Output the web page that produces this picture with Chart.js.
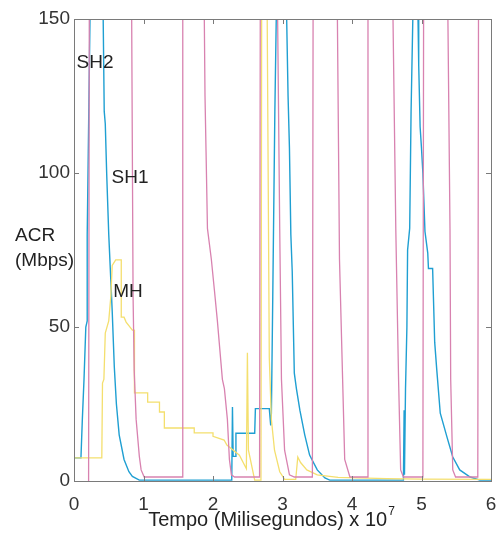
<!DOCTYPE html>
<html>
<head>
<meta charset="utf-8">
<script src="https://cdn.jsdelivr.net/npm/chart.js@4.4.1/dist/chart.umd.min.js"></script>
<style>
  html, body { margin: 0; padding: 0; background: #fff; }
  #wrap { width: 501px; height: 534px; }
</style>
</head>
<body>
<div id="wrap"><canvas id="acrChart" width="501" height="534"></canvas></div>
<script>
// ACR traces, time in units of 1e7 ms
const sh1Time = [0.21, 0.22, 0.83, 0.85, 0.866, 0.894, 0.94, 0.966, 1.01, 1.56, 1.565, 1.875, 1.885, 1.90, 1.92, 1.976, 2.02, 2.063, 2.135, 2.164, 2.207, 2.236, 2.265, 2.31, 2.67, 2.68, 2.93, 2.96, 2.985, 3.03, 3.10, 3.17, 3.43, 3.44, 3.79, 3.82, 3.865, 3.895, 3.97, 4.22, 4.23, 4.59, 4.63, 4.67, 4.70, 4.74, 5.02, 5.03, 5.38, 5.41, 5.42, 5.45, 5.49, 5.81, 5.82, 6.0];
const sh1Rate = [0, 150, 150, 60, 36, 20, 8, 3.6, 1.3, 1.3, 150, 150, 125, 107, 82, 72, 62, 52, 33, 30, 20, 7, 2, 1.3, 1.3, 150, 150, 82, 33, 10, 2, 1.3, 1.3, 150, 150, 72, 33, 7, 1.3, 1.3, 150, 150, 82, 33, 3.6, 1.3, 1.3, 150, 150, 82, 33, 3.6, 1.3, 1.3, 150, 150];

const sh2Time = [0, 0.10, 0.12, 0.144, 0.17, 0.19, 0.19, 0.21, 0.23, 0.42, 0.435, 0.45, 0.47, 0.50, 0.53, 0.55, 0.58, 0.61, 0.65, 0.72, 0.79, 0.84, 0.94, 2.27, 2.28, 2.29, 2.32, 2.33, 2.60, 2.61, 2.81, 2.83, 2.84, 2.86, 2.89, 2.91, 3.06, 3.08, 3.10, 3.12, 3.14, 3.17, 3.20, 3.25, 3.32, 3.39, 3.50, 3.61, 3.68, 4.74, 4.75, 4.755, 4.77, 4.79, 4.80, 4.83, 4.85, 4.875, 4.95, 4.96, 4.98, 5.00, 5.02, 5.05, 5.09, 5.10, 5.16, 5.19, 5.22, 5.27, 5.37, 5.45, 5.55, 5.70, 5.84, 6.0];
const sh2Rate = [7.5, 7.5, 20, 33, 50, 52, 80, 115, 150, 150, 120, 116, 100, 80, 65, 55, 37, 25, 15, 7, 3, 1.5, 0.3, 0.3, 24, 8, 8, 15.5, 15.5, 23.5, 23.5, 18, 22, 60, 120, 150, 150, 125, 108, 80, 68, 35, 30, 23, 15, 8.4, 3.6, 1.0, 0.3, 0.3, 23, 2, 30, 50, 75, 82, 120, 150, 150, 135, 115, 108, 100, 81, 74, 69, 69, 45, 36, 22, 14, 7.8, 3.6, 1.3, 0.3, 0.3];

const mhTime = [0, 0.40, 0.41, 0.43, 0.45, 0.50, 0.53, 0.55, 0.60, 0.68, 0.68, 0.72, 0.75, 0.84, 0.865, 0.87, 1.06, 1.06, 1.23, 1.23, 1.30, 1.30, 1.73, 1.73, 2.00, 2.00, 2.16, 2.20, 2.38, 2.48, 2.495, 2.51, 2.60, 2.69, 2.70, 2.78, 2.81, 2.84, 2.885, 2.96, 3.03, 3.19, 3.22, 3.26, 3.35, 3.50, 3.80, 4.50, 5.00, 6.0];
const mhRate = [7.5, 7.5, 31.8, 33, 48, 52, 60, 70, 71.8, 71.8, 53.2, 53.2, 51.6, 49, 49, 28.6, 28.6, 25.6, 25.6, 22.4, 22.4, 17.2, 17.2, 15.6, 15.6, 14.5, 13.3, 11.7, 8.4, 4, 41.6, 10, 0.3, 0.3, 150, 150, 40, 20, 10, 3, 0.5, 0.5, 7.8, 6, 3.6, 2, 1.2, 0.8, 0.6, 0.5];

const xTicks = [0, 1, 2, 3, 4, 5, 6];
const yTicks = [0, 50, 100, 150];

const FONT = 'Liberation Sans, Arial, sans-serif';

function toPoints(xs, ys) {
  return xs.map((x, i) => ({ x: x, y: ys[i] }));
}

// box frame with inward tick marks on all four sides, plus the text labels
const framePlugin = {
  id: 'frame',
  afterDatasetsDraw(chart) {
    const { ctx, chartArea: a, scales } = chart;
    ctx.save();
    ctx.strokeStyle = '#7a7a7a';
    ctx.lineWidth = 1;
    ctx.strokeRect(a.left + 0.5, a.top + 0.5, a.right - a.left, a.bottom - a.top);
    ctx.beginPath();
    xTicks.forEach(v => {
      const px = Math.round(scales.x.getPixelForValue(v)) + 0.5;
      ctx.moveTo(px, a.bottom); ctx.lineTo(px, a.bottom - 5);
      ctx.moveTo(px, a.top); ctx.lineTo(px, a.top + 5);
    });
    yTicks.forEach(v => {
      const py = Math.round(scales.y.getPixelForValue(v)) + 0.5;
      ctx.moveTo(a.left, py); ctx.lineTo(a.left + 5, py);
      ctx.moveTo(a.right, py); ctx.lineTo(a.right - 5, py);
    });
    ctx.stroke();

    ctx.fillStyle = '#222';
    ctx.font = '19px ' + FONT;
    ctx.textBaseline = 'middle';
    ctx.textAlign = 'center';
    ctx.fillText('SH2', 95, 63);
    ctx.fillText('SH1', 130, 178);
    ctx.fillText('MH', 128, 292);

    ctx.textAlign = 'left';
    ctx.fillText('ACR', 15, 236);
    ctx.fillText('(Mbps)', 15, 261);

    // x axis title with superscript exponent
    const main = 'Tempo (Milisegundos) x 10';
    ctx.font = '20px ' + FONT;
    const w = ctx.measureText(main).width;
    ctx.font = '12px ' + FONT;
    const ws = ctx.measureText('7').width;
    const startX = 271 - (w + ws) / 2;
    ctx.font = '20px ' + FONT;
    ctx.fillText(main, startX, 520);
    ctx.font = '12px ' + FONT;
    ctx.fillText('7', startX + w + 1, 512);
    ctx.restore();
  }
};

new Chart(document.getElementById('acrChart').getContext('2d'), {
  type: 'scatter',
  data: {
    datasets: [
      {
        label: 'SH1',
        data: toPoints(sh1Time, sh1Rate),
        showLine: true,
        borderColor: '#d882b0',
        borderWidth: 1.3,
        pointRadius: 0,
        tension: 0
      },
      {
        label: 'MH',
        data: toPoints(mhTime, mhRate),
        showLine: true,
        borderColor: '#f4df6e',
        borderWidth: 1.3,
        pointRadius: 0,
        tension: 0
      },
      {
        label: 'SH2',
        data: toPoints(sh2Time, sh2Rate),
        showLine: true,
        borderColor: '#1f9fd2',
        borderWidth: 1.4,
        pointRadius: 0,
        tension: 0
      }
    ]
  },
  options: {
    responsive: false,
    animation: false,
    events: [],
    layout: { padding: { top: 19, right: 10, left: 0, bottom: 0 } },
    plugins: {
      legend: { display: false },
      tooltip: { enabled: false }
    },
    scales: {
      x: {
        type: 'linear',
        min: 0,
        max: 6,
        afterBuildTicks: s => { s.ticks = xTicks.map(v => ({ value: v })); },
        afterFit: s => { s.height = 53; s.paddingLeft = 0; s.paddingRight = 0; },
        grid: { display: false, drawTicks: false },
        border: { display: false },
        ticks: { color: '#333', font: { family: FONT, size: 19 }, padding: 12, maxRotation: 0 }
      },
      y: {
        type: 'linear',
        min: 0,
        max: 150,
        afterBuildTicks: s => { s.ticks = yTicks.map(v => ({ value: v })); },
        afterFit: s => { s.width = 74; s.paddingTop = 0; s.paddingBottom = 0; },
        grid: { display: false, drawTicks: false },
        border: { display: false },
        ticks: { color: '#333', font: { family: FONT, size: 19 }, padding: 4 }
      }
    }
  },
  plugins: [framePlugin]
});
</script>
</body>
</html>
